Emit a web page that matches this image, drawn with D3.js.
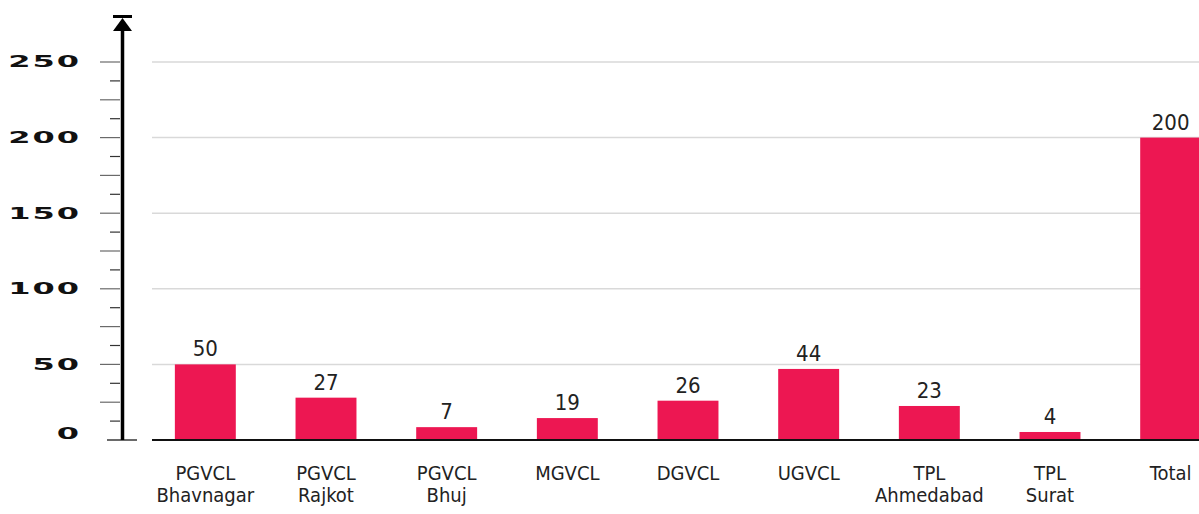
<!DOCTYPE html>
<meta charset="utf-8">
<style>
  body { margin: 0; background: #fff; }
  svg { display: block; }
</style>
<body>
<div class="chart"></div>
<script src="https://d3js.org/d3.v7.min.js"></script>
<script>
// data
const categories = ["PGVCL Bhavnagar", "PGVCL Rajkot", "PGVCL Bhuj", "MGVCL", "DGVCL",
                    "UGVCL", "TPL Ahmedabad", "TPL Surat", "Total"];
// bar heights as drawn
const barValues = [50, 28, 8.5, 14.5, 26, 47, 22.5, 5.3, 200];
// numbers printed above the bars
const labelValues = [50, 27, 7, 19, 26, 44, 23, 4, 200];
const tickLabels = [0, 50, 100, 150, 200, 250];

const width = 1199, height = 514;
const barColor = "#ed1752";

const svg = d3.select(".chart").append("svg")
    .attr("width", width)
    .attr("height", height);

const x = d3.scaleBand()
    .domain(categories)
    .range([145, 1231])
    .paddingInner(0.495)
    .paddingOuter(0.2475);

const y = d3.scaleLinear()
    .domain([0, 250])
    .range([440, 62]);

// gridlines
svg.append("g")
    .selectAll("line")
    .data(tickLabels.filter(d => d > 0))
    .join("line")
    .attr("x1", 152).attr("x2", width)
    .attr("y1", d => y(d)).attr("y2", d => y(d))
    .attr("stroke", "#d9d9d9")
    .attr("stroke-width", 1.5);

// small ticks, long every 25, short in between
let smallTicks = d3.range(0, 251, 12.5);
svg.append("g")
    .selectAll("line")
    .data(smallTicks)
    .join("line")
    .attr("x1", d => d === 0 ? 107 : (d % 25 === 0 ? 100 : 110))
    .attr("x2", d => d === 0 ? 137 : 120)
    .attr("y1", d => y(d)).attr("y2", d => y(d))
    .attr("stroke", d => d % 25 === 0 ? "#6a6a6a" : "#333")
    .attr("stroke-width", d => d === 0 ? 2 : 1.2);

// tick labels, wide geometric look
svg.append("g")
    .selectAll("text")
    .data(tickLabels)
    .join("text")
    .attr("transform", d => `translate(81, ${y(d) - (d === 0 ? 6 : 0)}) scale(2, 1)`)
    .attr("text-anchor", "end")
    .attr("dominant-baseline", "central")
    .style("font-family", "DejaVu Sans, sans-serif")
    .style("font-weight", "bold")
    .style("font-size", "16px")
    .style("letter-spacing", "1px")
    .attr("fill", "#111")
    .text(d => d);

// bars
svg.append("g")
    .selectAll("rect")
    .data(barValues)
    .join("rect")
    .attr("x", (d, i) => x(categories[i]))
    .attr("width", x.bandwidth())
    .attr("y", d => y(d))
    .attr("height", d => y(0) - y(d))
    .attr("fill", barColor);

// baseline
svg.append("line")
    .attr("x1", 152).attr("x2", width)
    .attr("y1", y(0)).attr("y2", y(0))
    .attr("stroke", "#111")
    .attr("stroke-width", 2);

// value labels
svg.append("g")
    .selectAll("text")
    .data(labelValues)
    .join("text")
    .attr("x", (d, i) => x(categories[i]) + x.bandwidth() / 2)
    .attr("y", (d, i) => y(barValues[i]) - 8)
    .attr("text-anchor", "middle")
    .style("font-family", "DejaVu Sans Condensed, sans-serif")
    .style("font-size", "22px")
    .attr("fill", "#222")
    .text(d => d);

// category labels
let cat = svg.append("g")
    .selectAll("text")
    .data(categories)
    .join("text")
    .attr("x", d => x(d) + x.bandwidth() / 2)
    .attr("y", 480)
    .attr("text-anchor", "middle")
    .style("font-family", "DejaVu Sans Condensed, sans-serif")
    .style("font-size", "20px")
    .attr("fill", "#222");
cat.selectAll("tspan")
    .data(d => d.split(" "))
    .join("tspan")
    .attr("x", function () { return d3.select(this.parentNode).attr("x"); })
    .attr("dy", (d, i) => i === 0 ? 0 : 22)
    .text(d => d);

// y axis with arrow
svg.append("line")
    .attr("x1", 122.5).attr("x2", 122.5)
    .attr("y1", y(0)).attr("y2", 26)
    .attr("stroke", "#000")
    .attr("stroke-width", 3.5);
svg.append("path")
    .attr("d", "M122.5,18 L113,31 L132,31 Z")
    .attr("fill", "#000");
svg.append("rect")
    .attr("x", 113).attr("y", 15)
    .attr("width", 19).attr("height", 3)
    .attr("fill", "#000");
</script>
</body>
